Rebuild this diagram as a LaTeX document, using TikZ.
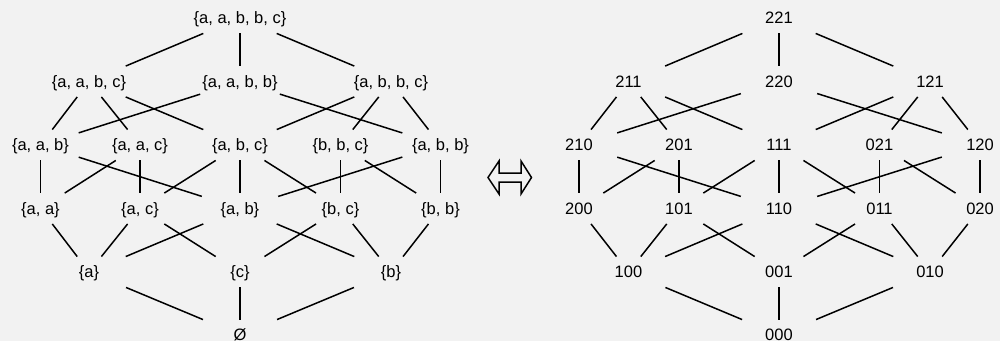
\documentclass[tikz,border=0pt]{standalone}
\usepackage{fontspec}
\setmainfont{Liberation Sans}
\begin{document}
\begin{tikzpicture}[x=1pt,y=-1pt,
  lbl/.style={font=\fontsize{16.5}{18}\selectfont, inner xsep=2pt, inner ysep=0pt,
    minimum width=76pt, minimum height=30.5pt, text height=11.8pt, text depth=0pt},
  edge/.style={line width=1.5pt, black},
  dblarrow/.style={line width=1.5pt, black, line join=miter}]
\fill[fill={rgb,255:red,242;green,242;blue,242}] (0,0) rectangle (1000,341);
\useasboundingbox (0,0) rectangle (1000,341);
\def\ya{18}\def\yb{81.5}\def\yc{145}\def\yd{208.5}\def\ye{272}\def\yf{335}
% left lattice
\node[lbl] (L0) at (240,\ya) {\{a, a, b, b, c\}};
\node[lbl] (L21) at (89,\yb) {\{a, a, b, c\}};
\node[lbl] (L22) at (240,\yb) {\{a, a, b, b\}};
\node[lbl] (L23) at (391,\yb) {\{a, b, b, c\}};
\node[lbl] (L31) at (40.5,\yc) {\{a, a, b\}};
\node[lbl] (L32) at (140,\yc) {\{a, a, c\}};
\node[lbl] (L33) at (240,\yc) {\{a, b, c\}};
\node[lbl] (L34) at (340.5,\yc) {\{b, b, c\}};
\node[lbl] (L35) at (440.5,\yc) {\{a, b, b\}};
\node[lbl] (L41) at (40.5,\yd) {\{a, a\}};
\node[lbl] (L42) at (140,\yd) {\{a, c\}};
\node[lbl] (L43) at (240,\yd) {\{a, b\}};
\node[lbl] (L44) at (340.5,\yd) {\{b, c\}};
\node[lbl] (L45) at (440.5,\yd) {\{b, b\}};
\node[lbl] (L51) at (89,\ye) {\{a\}};
\node[lbl] (L52) at (240,\ye) {\{c\}};
\node[lbl] (L53) at (391,\ye) {\{b\}};
\node[lbl] (L6) at (240,\yf) {Ø};
% right lattice
\node[lbl] (R0) at (779,\ya) {221};
\node[lbl] (R21) at (628.5,\yb) {211};
\node[lbl] (R22) at (779,\yb) {220};
\node[lbl] (R23) at (930,\yb) {121};
\node[lbl] (R31) at (579,\yc) {210};
\node[lbl] (R32) at (679,\yc) {201};
\node[lbl] (R33) at (779,\yc) {111};
\node[lbl] (R34) at (879.5,\yc) {021};
\node[lbl] (R35) at (980,\yc) {120};
\node[lbl] (R41) at (579,\yd) {200};
\node[lbl] (R42) at (679,\yd) {101};
\node[lbl] (R43) at (779,\yd) {110};
\node[lbl] (R44) at (879.5,\yd) {011};
\node[lbl] (R45) at (980,\yd) {020};
\node[lbl] (R51) at (628.5,\ye) {100};
\node[lbl] (R52) at (779,\ye) {001};
\node[lbl] (R53) at (930,\ye) {010};
\node[lbl] (R6) at (779,\yf) {000};
\foreach \s in {L,R}{
  \draw[edge] (\s0) -- (\s21);
  \draw[edge] (\s0) -- (\s22);
  \draw[edge] (\s0) -- (\s23);
  \draw[edge] (\s21) -- (\s31);
  \draw[edge] (\s21) -- (\s32);
  \draw[edge] (\s21) -- (\s33);
  \draw[edge] (\s22) -- (\s31);
  \draw[edge] (\s22) -- (\s35);
  \draw[edge] (\s23) -- (\s33);
  \draw[edge] (\s23) -- (\s34);
  \draw[edge] (\s23) -- (\s35);
  \draw[edge] (\s31) -- (\s41);
  \draw[edge] (\s31) -- (\s43);
  \draw[edge] (\s32) -- (\s41);
  \draw[edge] (\s32) -- (\s42);
  \draw[edge] (\s33) -- (\s42);
  \draw[edge] (\s33) -- (\s43);
  \draw[edge] (\s33) -- (\s44);
  \draw[edge] (\s34) -- (\s44);
  \draw[edge] (\s34) -- (\s45);
  \draw[edge] (\s35) -- (\s43);
  \draw[edge] (\s35) -- (\s45);
  \draw[edge] (\s41) -- (\s51);
  \draw[edge] (\s42) -- (\s51);
  \draw[edge] (\s42) -- (\s52);
  \draw[edge] (\s43) -- (\s51);
  \draw[edge] (\s43) -- (\s53);
  \draw[edge] (\s44) -- (\s52);
  \draw[edge] (\s44) -- (\s53);
  \draw[edge] (\s45) -- (\s53);
  \draw[edge] (\s51) -- (\s6);
  \draw[edge] (\s52) -- (\s6);
  \draw[edge] (\s53) -- (\s6);
}
% double arrow
\draw[dblarrow] (488,177.5) -- (499,161) -- (499,173) -- (521,173) -- (521,161)
  -- (531.5,177.5) -- (521,194) -- (521,182) -- (499,182) -- (499,194) -- cycle;
\end{tikzpicture}
\end{document}
